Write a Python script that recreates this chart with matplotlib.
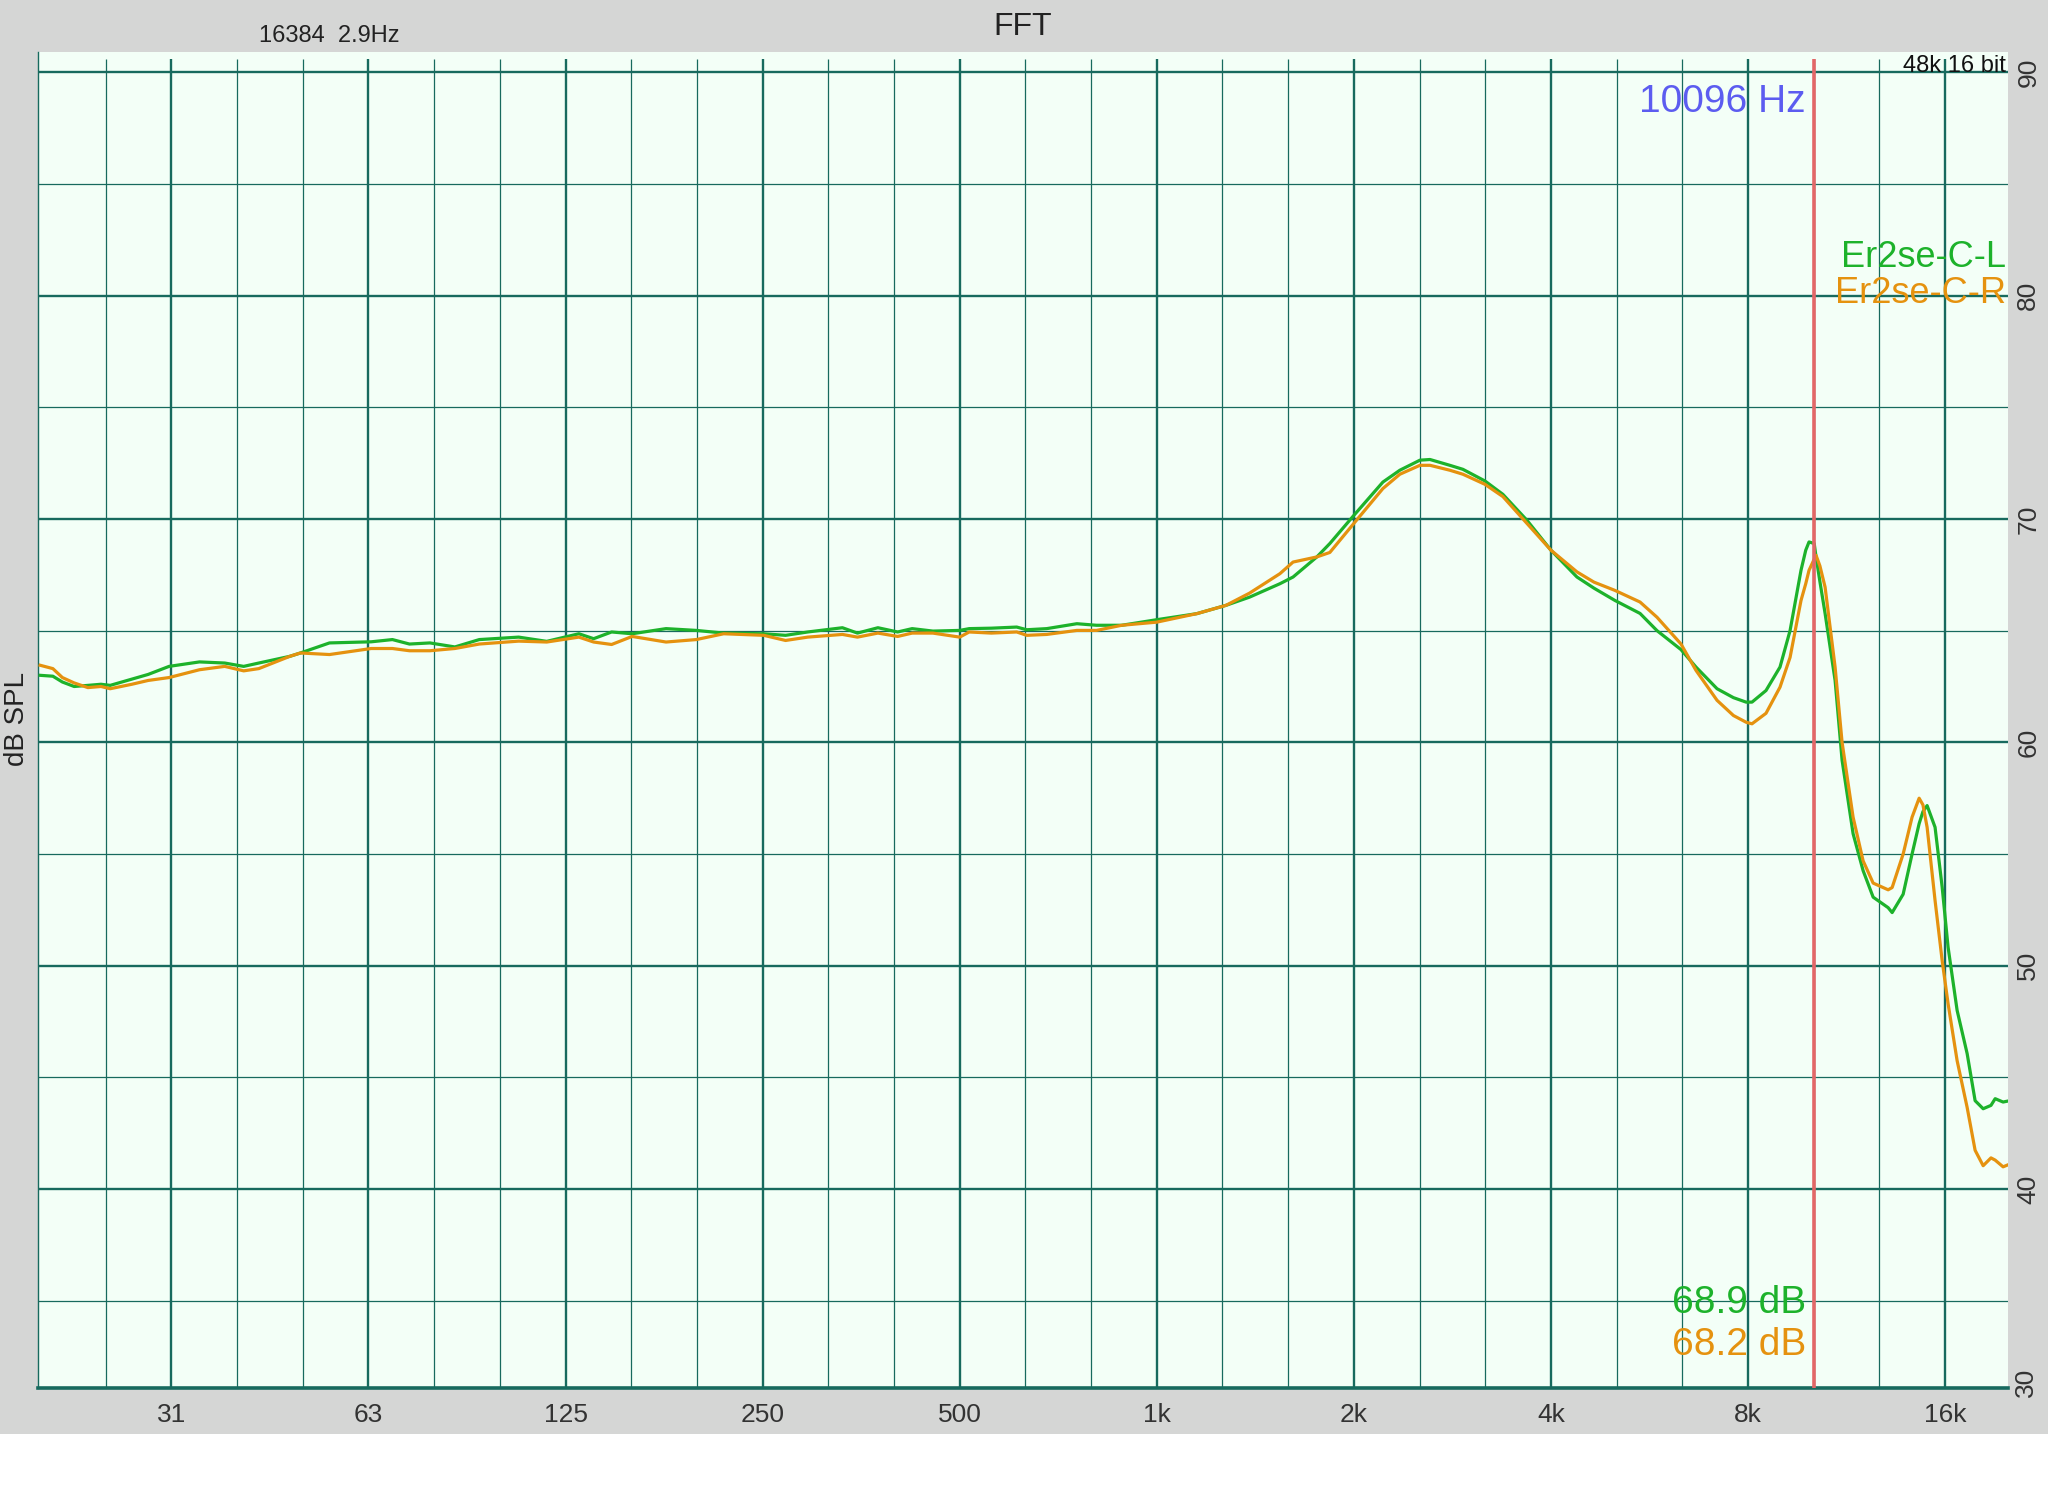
import numpy as np
import matplotlib
matplotlib.use('Agg')
import matplotlib.pyplot as plt
from matplotlib.patches import Rectangle
from matplotlib.ticker import NullLocator

plt.rcParams['font.family'] = ['Liberation Sans', 'DejaVu Sans']

# frequency (Hz) and level (dB SPL)
freq = [19.7, 20.6, 21.3, 22.2, 23.3, 24.4, 25.2, 27.2, 28.8, 31.0,
        34.5, 37.7, 40.3, 42.5, 47.4, 49.2, 54.5, 63.1, 68.0, 72.2,
        77.6, 84.7, 92.3, 106, 117, 131, 138, 147, 158, 178,
        198, 218, 251, 271, 293, 331, 349, 375, 402, 423,
        455, 500, 517, 559, 611, 633, 679, 755, 809, 884,
        1000, 1151, 1275, 1386, 1542, 1615, 1756, 1838, 2000, 2215,
        2351, 2523, 2614, 2803, 2935, 3171, 3378, 3676, 4000, 4383,
        4654, 5010, 5472, 5808, 6320, 6662, 7174, 7600, 7946, 8112,
        8522, 8952, 9274, 9638, 9800, 9914, 10096, 10162, 10300, 10490,
        10866, 11136, 11576, 11990, 12422, 13094, 13280, 13804, 14244, 14602,
        14800, 15018, 15444, 15834, 16168, 16690, 17288, 17780, 18290, 18800,
        19080, 19618, 20000]

left_db = [63.0, 62.96, 62.7, 62.5, 62.55, 62.6, 62.55, 62.83, 63.04, 63.4,
           63.6, 63.55, 63.4, 63.55, 63.85, 64.0, 64.45, 64.5, 64.6, 64.4,
           64.45, 64.27, 64.6, 64.71, 64.52, 64.86, 64.64, 64.94, 64.86, 65.09,
           65.01, 64.89, 64.86, 64.79, 64.94, 65.13, 64.89, 65.13, 64.94, 65.09,
           64.98, 65.01, 65.09, 65.11, 65.16, 65.04, 65.09, 65.31, 65.24, 65.24,
           65.49, 65.76, 66.13, 66.5, 67.1, 67.4, 68.3, 68.9, 70.16, 71.65,
           72.18, 72.63, 72.66, 72.4, 72.22, 71.7, 71.1, 69.94, 68.6, 67.4,
           66.9, 66.35, 65.77, 65.0, 64.15, 63.37, 62.4, 62.0, 61.8, 61.8,
           62.32, 63.37, 65.0, 67.7, 68.6, 68.97, 68.9, 68.3, 67.2, 65.77,
           62.77, 59.2, 55.91, 54.26, 53.07, 52.6, 52.38, 53.2, 55.0, 56.36,
           56.9, 57.17, 56.2, 53.52, 50.83, 48.0, 46.07, 43.96, 43.6, 43.75,
           44.05, 43.9, 43.95]

right_db = [63.45, 63.3, 62.9, 62.66, 62.45, 62.5, 62.4, 62.6, 62.77, 62.9,
            63.25, 63.4, 63.2, 63.3, 63.85, 64.0, 63.93, 64.2, 64.2, 64.1,
            64.1, 64.2, 64.4, 64.53, 64.49, 64.71, 64.49, 64.38, 64.74, 64.49,
            64.6, 64.86, 64.79, 64.56, 64.71, 64.83, 64.71, 64.89, 64.74, 64.89,
            64.89, 64.71, 64.94, 64.89, 64.94, 64.79, 64.83, 65.01, 65.01, 65.24,
            65.38, 65.76, 66.13, 66.68, 67.55, 68.07, 68.3, 68.5, 69.8, 71.36,
            72.0, 72.4, 72.4, 72.18, 72.0, 71.55, 71.0, 69.8, 68.6, 67.63,
            67.17, 66.8, 66.28, 65.6, 64.4, 63.22, 61.88, 61.2, 60.9, 60.83,
            61.3, 62.47, 63.8, 66.35, 67.1, 67.7, 68.2, 68.37, 67.9, 66.95,
            63.37, 60.0, 56.65, 54.7, 53.7, 53.4, 53.5, 55.0, 56.65, 57.5,
            57.2, 56.2, 52.92, 50.23, 48.3, 45.75, 43.66, 41.74, 41.05, 41.4,
            41.3, 41.0, 41.1]

series_names = ['Er2se-C-L', 'Er2se-C-R']
cursor_hz = 10096
cursor_readout = ['68.9 dB', '68.2 dB']

xtick_freqs = [31.25, 62.5, 125, 250, 500, 1000, 2000, 4000, 8000, 16000]
xtick_labels = ['31', '63', '125', '250', '500', '1k', '2k', '4k', '8k', '16k']
ytick_vals = [40, 50, 60, 70, 80, 90]

GREEN = '#1db22b'
ORANGE = '#e5920f'
GRID = '#176a5e'
BG = '#f3fff7'
GRAY = '#d5d6d5'

ylo, yhi = 31.1, 90.9
grid_top = 90.6

fig = plt.figure(figsize=(20.48, 14.96), dpi=100)
fig.patch.set_facecolor('white')
fig.add_artist(Rectangle((0, 62 / 1496), 1, 1 - 62 / 1496, transform=fig.transFigure,
                         facecolor=GRAY, edgecolor='none', zorder=0))

ax = fig.add_axes([38 / 2048, 1 - 1388 / 1496, (2008 - 38) / 2048, (1388 - 52) / 1496])
ax.set_facecolor(BG)
ax.set_xscale('log')
ax.set_xlim(19.55, 19960)
ax.set_ylim(ylo, yhi)

# grid: 1/3 octave thin, octave thick; 5 dB thin, 10 dB thick
# (the left spine stands in for the first 1/3 octave line)
third_oct = 1000 * 2.0 ** (np.arange(-16, 15) / 3)
for f in third_oct:
    if f > 19960:
        continue
    major = abs(np.log2(f / 1000) - round(np.log2(f / 1000))) < 1e-6
    ax.vlines(f, ylo, grid_top, color=GRID, lw=1.7 if major else 0.9, zorder=1)
for db in range(35, 90, 10):
    ax.axhline(db, color=GRID, lw=0.9, zorder=1)
for db in ytick_vals:
    ax.axhline(db, color=GRID, lw=1.7, zorder=1)

for s in ['top', 'right']:
    ax.spines[s].set_visible(False)
ax.spines['bottom'].set_color(GRID)
ax.spines['bottom'].set_linewidth(2.6)
ax.spines['left'].set_color(GRID)
ax.spines['left'].set_linewidth(1.0)

ax.plot(freq, left_db, color=GREEN, lw=2.3, zorder=3, solid_joinstyle='round')
ax.plot(freq, right_db, color=ORANGE, lw=2.3, zorder=3, solid_joinstyle='round')

ax.vlines(cursor_hz, ylo, grid_top, color='#e26767', lw=2.6, zorder=4)

# axes ticks
ax.xaxis.set_minor_locator(NullLocator())
ax.set_xticks(xtick_freqs, xtick_labels)
ax.tick_params(axis='x', length=0, pad=11, labelsize=19, labelcolor='#333333')
ax.yaxis.tick_right()
ax.yaxis.set_minor_locator(NullLocator())
ax.set_yticks(ytick_vals, [str(v) for v in ytick_vals])
ax.tick_params(axis='y', length=0, pad=6, labelsize=19, labelcolor='#333333')
plt.setp(ax.get_yticklabels(), rotation=90, va='center')
ax.annotate('30', xy=(1, 0), xycoords='axes fraction', xytext=(4.5, 4),
            textcoords='offset points', rotation=90, ha='left', va='center',
            fontsize=19, color='#333333')

# texts
fig.text(1023 / 2048, 1 - 27 / 1496, 'FFT', ha='center', va='center', fontsize=23, color='#222222')
fig.text(259 / 2048, 1 - 36 / 1496, '16384  2.9Hz', ha='left', va='center', fontsize=17, color='#222222')
fig.text(17 / 2048, 1 - 719 / 1496, 'dB SPL', rotation=90, ha='center', va='center',
         fontsize=20, color='#222222')
ax.annotate('48k 16 bit', xy=(1, 1), xycoords='axes fraction', xytext=(-1.5, -14.5),
            textcoords='offset points', ha='right', va='baseline', fontsize=17, color='#111111')
ax.annotate(f'{cursor_hz} Hz', xy=(cursor_hz, 1), xycoords=('data', 'axes fraction'),
            xytext=(-6, -43), textcoords='offset points', ha='right', va='baseline',
            fontsize=28, color='#5c5cf0', zorder=5)
ax.annotate(series_names[0], xy=(1, 1), xycoords='axes fraction', xytext=(-1.5, -155),
            textcoords='offset points', ha='right', va='baseline', fontsize=26, color=GREEN, zorder=5)
ax.annotate(series_names[1], xy=(1, 1), xycoords='axes fraction', xytext=(-1.5, -181),
            textcoords='offset points', ha='right', va='baseline', fontsize=26, color=ORANGE, zorder=5)
ax.annotate(cursor_readout[0], xy=(cursor_hz, 0), xycoords=('data', 'axes fraction'),
            xytext=(-6, 54), textcoords='offset points', ha='right', va='baseline',
            fontsize=28, color=GREEN, zorder=5)
ax.annotate(cursor_readout[1], xy=(cursor_hz, 0), xycoords=('data', 'axes fraction'),
            xytext=(-6, 24), textcoords='offset points', ha='right', va='baseline',
            fontsize=28, color=ORANGE, zorder=5)

fig.savefig('out.png', dpi=100, facecolor=fig.get_facecolor())
